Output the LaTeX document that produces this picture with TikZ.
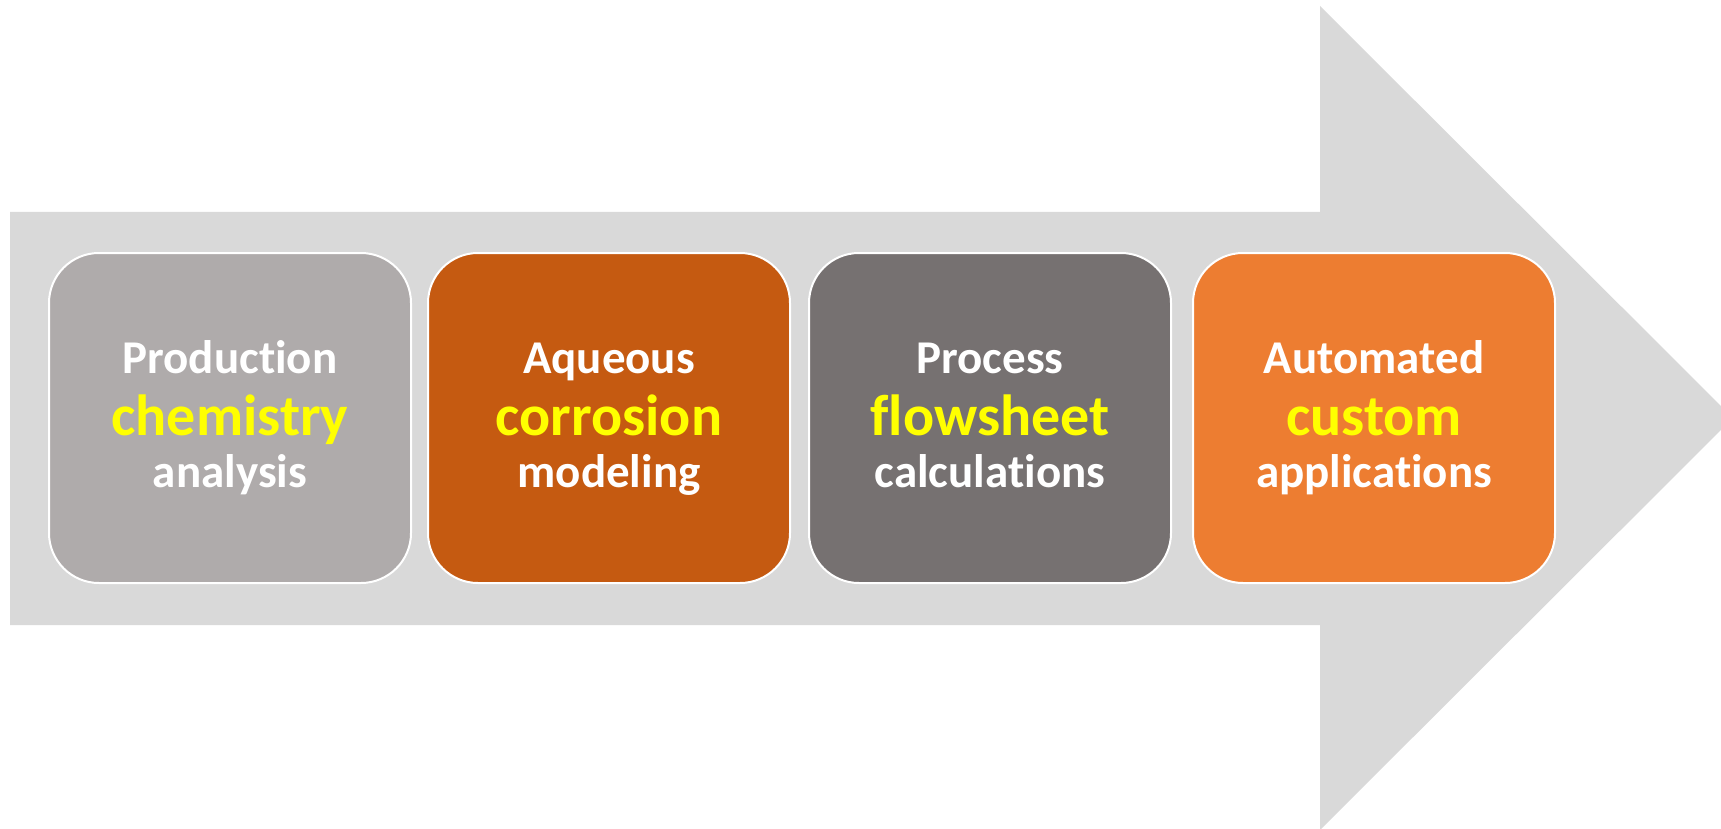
\documentclass[tikz,border=0pt]{standalone}
\usepackage{fontspec}
\setmainfont[Ligatures=NoCommon]{Carlito}
\definecolor{arrowgrey}{HTML}{D9D9D9}
\definecolor{boxA}{HTML}{AFABAB}
\definecolor{boxB}{HTML}{C55A11}
\definecolor{boxC}{HTML}{767171}
\definecolor{boxD}{HTML}{ED7D31}
\definecolor{hilite}{HTML}{FFFF00}
\begin{document}
\begin{tikzpicture}[x=1pt,y=-1pt,
  stagebox/.style={draw=white, line width=2pt, rounded corners=50pt,
    minimum width=362pt, minimum height=330pt, inner sep=0pt},
  plainline/.style={anchor=base, text=white, inner sep=0pt,
    font=\fontsize{47}{52}\selectfont\bfseries},
  keyline/.style={anchor=base, text=hilite, inner sep=0pt,
    font=\fontsize{58}{62}\selectfont\bfseries}]
\useasboundingbox (0,0) rectangle (1721,829);
\clip (0,0) rectangle (1721,829);
\fill[arrowgrey] (10,212) -- (1320,212) -- (1320,6) -- (1733,418)
  -- (1320,830) -- (1320,625) -- (10,625) -- cycle;
\node[stagebox, fill=boxA] (b1) at (230,418) {};
\node[stagebox, fill=boxB] (b2) at (609,418) {};
\node[stagebox, fill=boxC] (b3) at (990,418) {};
\node[stagebox, fill=boxD] (b4) at (1374,418) {};
\foreach \b/\ta/\tb/\tc in {b1/Production/chemistry/analysis,
  b2/Aqueous/corrosion/modeling, b3/Process/flowsheet/calculations,
  b4/Automated/custom/applications}{
  \node[plainline] (\b top) at ([yshift=45pt]\b.center) {\ta};
  \node[keyline] (\b mid) at ([yshift=-17pt]\b.center) {\tb};
  \node[plainline] (\b bot) at ([yshift=-69pt]\b.center) {\tc};
}
\end{tikzpicture}
\end{document}
